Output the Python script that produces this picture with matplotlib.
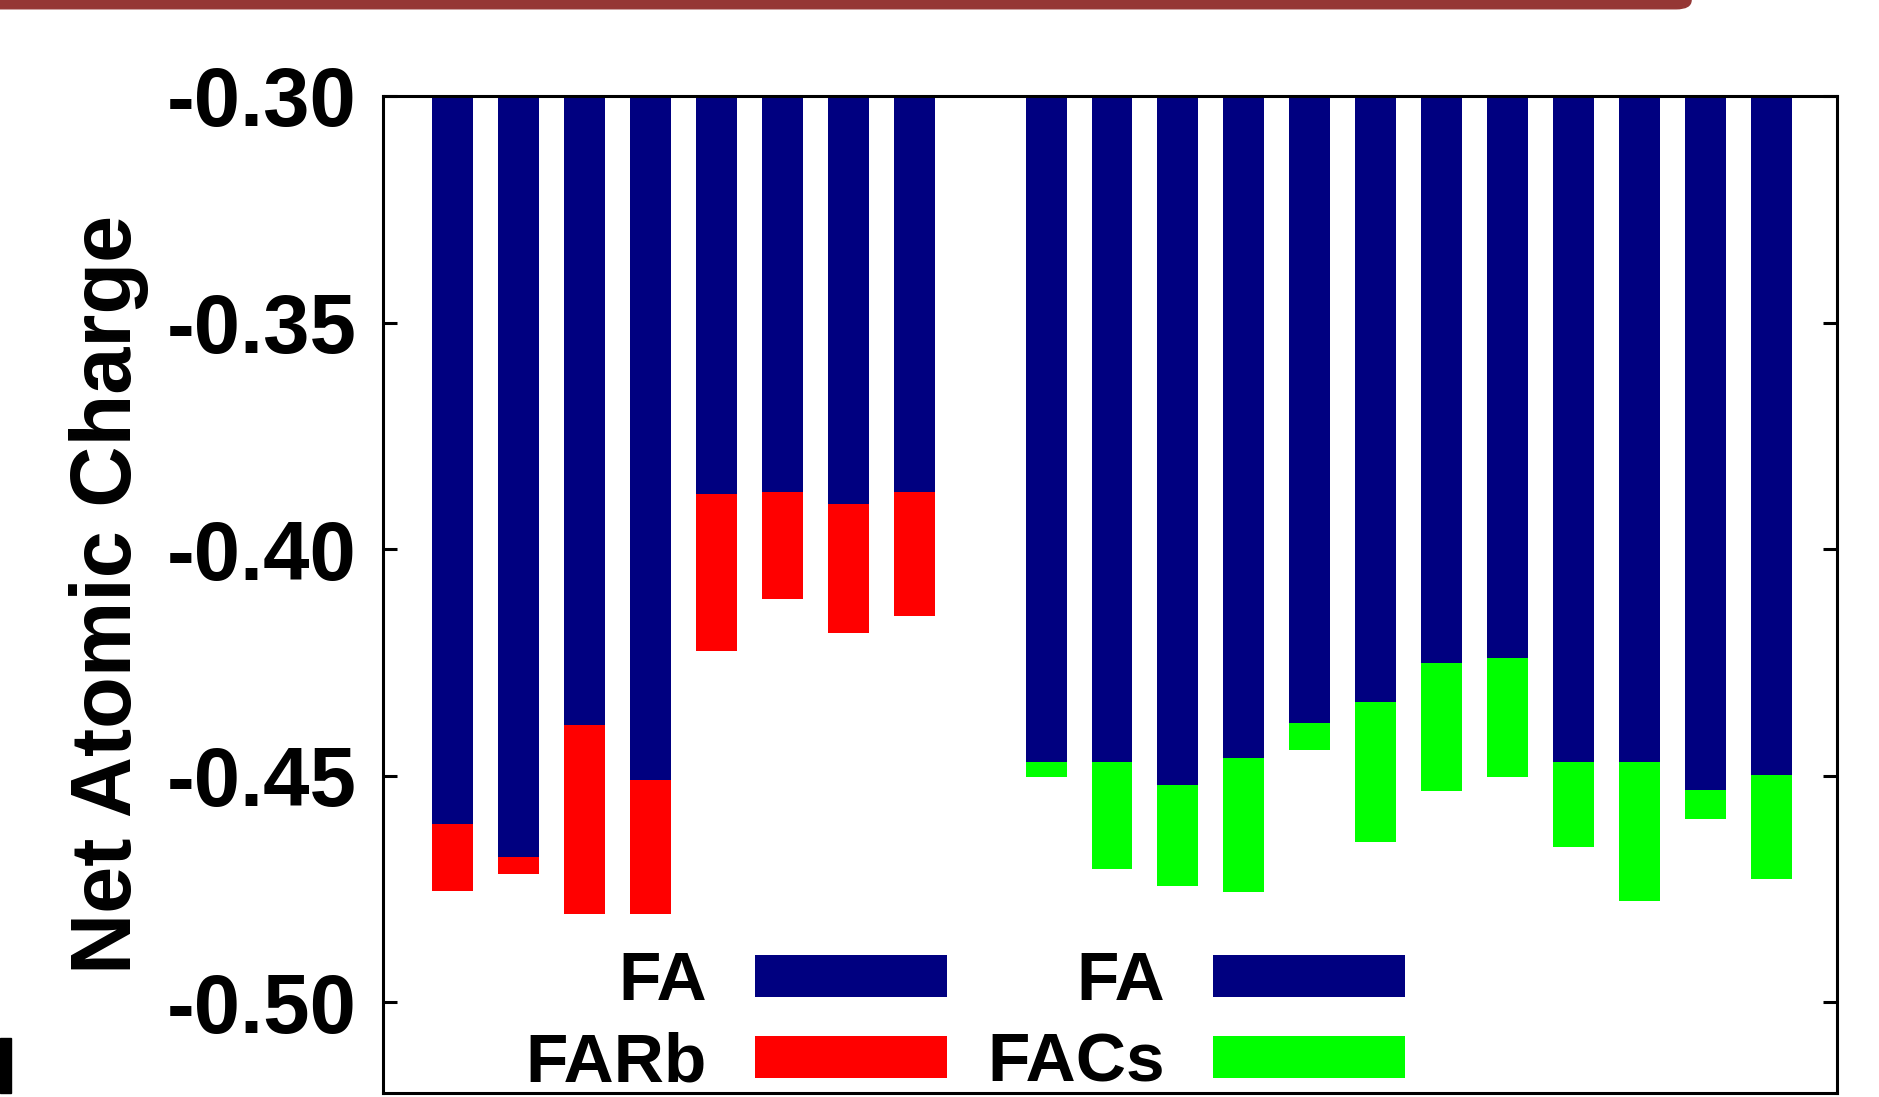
import numpy as np
from matplotlib import pyplot as plt
from matplotlib.patches import FancyBboxPatch, Rectangle

plt.rcParams['font.family'] = ['Liberation Sans', 'DejaVu Sans']
plt.rcParams['font.weight'] = 'bold'

# bar positions (gap between the two groups at 9)
pos_rb = [1, 2, 3, 4, 5, 6, 7, 8]
pos_cs = [10, 11, 12, 13, 14, 15, 16, 17, 18, 19, 20, 21]

# charge on FA part and total charge (bars hang from -0.30)
fa_rb = [-0.4607, -0.4679, -0.4388, -0.4510, -0.3879, -0.3873, -0.3901, -0.3873]
rb_tot = [-0.4755, -0.4716, -0.4805, -0.4805, -0.4225, -0.4109, -0.4185, -0.4147]

fa_cs = [-0.4470, -0.4470, -0.4520, -0.4460, -0.4383, -0.4338, -0.4250, -0.4240,
         -0.4470, -0.4470, -0.4531, -0.4498]
cs_tot = [-0.4503, -0.4705, -0.4743, -0.4756, -0.4443, -0.4645, -0.4534, -0.4503,
          -0.4656, -0.4777, -0.4595, -0.4727]

base = -0.30
navy = '#000080'
red = '#ff0000'
green = '#00ff00'

fig = plt.figure(figsize=(18.79, 10.97), dpi=100)
ax = fig.add_axes([0.2038, 0.0036, 0.7739, 0.9089])

w = 0.62
fa_rb = np.array(fa_rb)
fa_cs = np.array(fa_cs)
ax.bar(pos_rb, fa_rb - base, bottom=base, width=w, color=navy, label='FA')
ax.bar(pos_rb, np.array(rb_tot) - fa_rb, bottom=fa_rb, width=w, color=red, label='FARb')
ax.bar(pos_cs, fa_cs - base, bottom=base, width=w, color=navy, label='FA')
ax.bar(pos_cs, np.array(cs_tot) - fa_cs, bottom=fa_cs, width=w, color=green, label='FACs')

ax.set_xlim(-0.06, 22.0)
ax.set_ylim(-0.52, -0.30)
ax.set_yticks([-0.30, -0.35, -0.40, -0.45, -0.50])
ax.set_yticklabels(['-0.30', '-0.35', '-0.40', '-0.45', '-0.50'])
ax.set_xticks([])
ax.tick_params(axis='y', direction='in', length=10, width=2.2, right=True,
               labelsize=60, pad=19)
for s in ax.spines.values():
    s.set_linewidth(2.2)

ax.set_ylabel('Net Atomic Charge', fontsize=61, fontweight='bold')
ax.yaxis.set_label_coords(-0.161, 0.5)

ax.legend(ncol=2, loc='upper left', bbox_to_anchor=(0.098, 0.143), frameon=False,
          fontsize=50, markerfirst=False, handlelength=2.77, handleheight=0.56,
          handletextpad=0.69, columnspacing=0.58, labelspacing=0.25, borderpad=0,
          borderaxespad=0)

# slide header strip and cut letter at the left edge
fig.patches.append(FancyBboxPatch((-0.02, 0.992), 0.92, 0.03, boxstyle='round,pad=0,rounding_size=0.008',
                                  transform=fig.transFigure, color='#953735', zorder=5))
fig.patches.append(Rectangle((0, 0.0036), 0.0058, 0.05, transform=fig.transFigure,
                             color='black'))

plt.savefig('out.png', dpi=100)
